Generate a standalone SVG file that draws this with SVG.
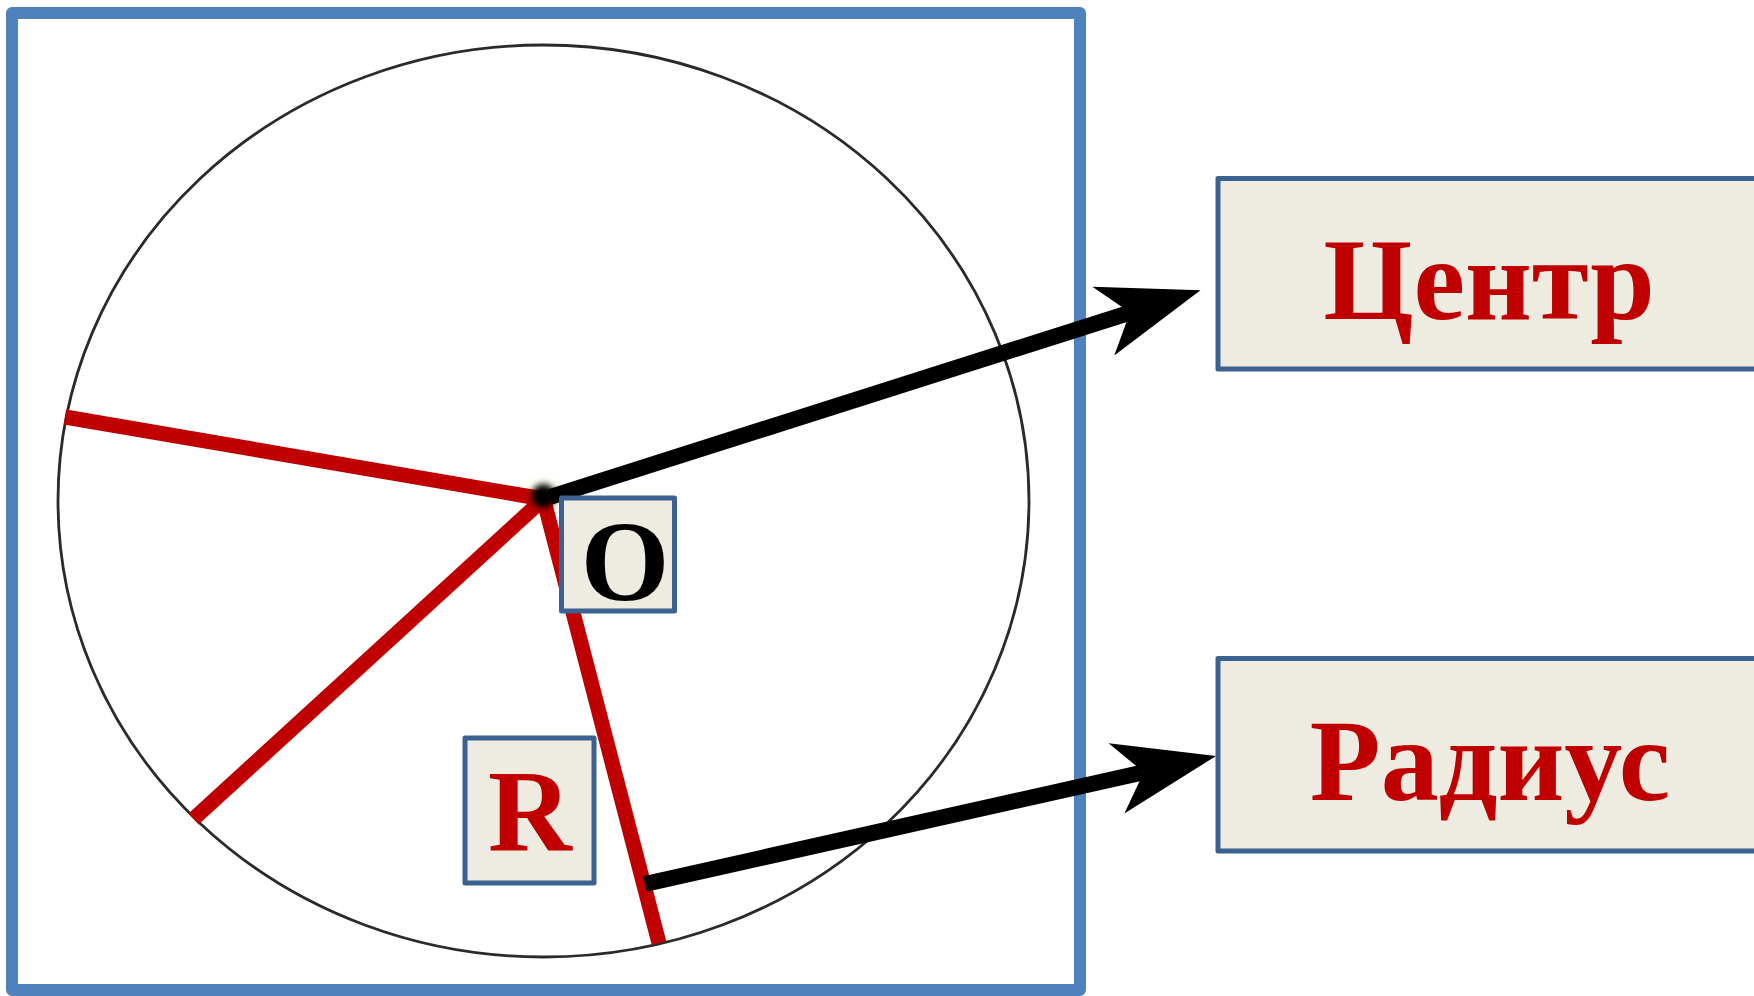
<svg xmlns="http://www.w3.org/2000/svg" width="1754" height="996" viewBox="0 0 1754 996">
  <style>
    .frame { fill: #ffffff; stroke: #4F81BD; stroke-width: 12; stroke-linejoin: round; }
    .radius { stroke: #C00000; stroke-width: 15; stroke-linecap: butt; fill: none; }
    .box { fill: #EEECE1; stroke: #3A6190; stroke-width: 5; stroke-linejoin: round; }
    .conn { stroke: #000000; stroke-width: 16; fill: none; }
    .lbl { font-family: "Liberation Serif", "Times New Roman", serif; font-weight: bold; text-anchor: middle; }
    .red { fill: #C00000; }
    .blk { fill: #000000; }
  </style>
  <defs>
    <marker id="head" markerUnits="userSpaceOnUse" orient="auto" overflow="visible" markerWidth="10" markerHeight="10" refX="0" refY="0">
      <path d="M74,0 L-28,-36 L0,0 L-28,36 Z" fill="#000000"/>
    </marker>
    <filter id="blur" x="-1" y="-1" width="3" height="3">
      <feGaussianBlur stdDeviation="3"/>
    </filter>
    <filter id="soft" x="-0.05" y="-0.05" width="1.1" height="1.1">
      <feGaussianBlur stdDeviation="0.6"/>
    </filter>
  </defs>
  <rect width="1754" height="996" fill="#ffffff"/>

  <g id="frame">
    <rect class="frame" x="12" y="13" width="1068" height="977"/>
  </g>

  <g id="circle">
    <ellipse cx="543.5" cy="501" rx="485.5" ry="456" fill="none" stroke="#2a2a2a" stroke-width="2.8" filter="url(#soft)"/>
    <circle cx="543.5" cy="497" r="18" fill="#f4f2d8" opacity="0.5" filter="url(#blur)"/>
    <line class="radius" x1="543.5" y1="499" x2="65" y2="417"/>
    <line class="radius" x1="543.5" y1="499" x2="193.5" y2="819"/>
    <line class="radius" x1="543.5" y1="499" x2="659" y2="943"/>
    <circle cx="543.5" cy="496" r="12" fill="#000000" filter="url(#blur)"/>
  </g>

  <g id="connectors">
    <line class="conn" x1="550" y1="497" x2="1130" y2="312.6" marker-end="url(#head)"/>
    <line class="conn" x1="645" y1="884" x2="1143.8" y2="772.2" marker-end="url(#head)"/>
  </g>

  <g id="node-O">
    <rect class="box" x="561.5" y="498" width="113" height="113"/>
    <text class="lbl blk" x="625" y="600" font-size="114">O</text>
  </g>

  <g id="node-R">
    <rect class="box" x="465" y="738" width="129" height="145"/>
    <text class="lbl red" x="530" y="850" font-size="116">R</text>
  </g>

  <g id="node-centr">
    <rect class="box" x="1218" y="178.5" width="545" height="190.5"/>
    <text class="lbl red" x="1489" y="319" font-size="116">Центр</text>
  </g>

  <g id="node-radius">
    <rect class="box" x="1218" y="658.5" width="545" height="192.5"/>
    <text class="lbl red" x="1490" y="800" font-size="116">Радиус</text>
  </g>
</svg>
